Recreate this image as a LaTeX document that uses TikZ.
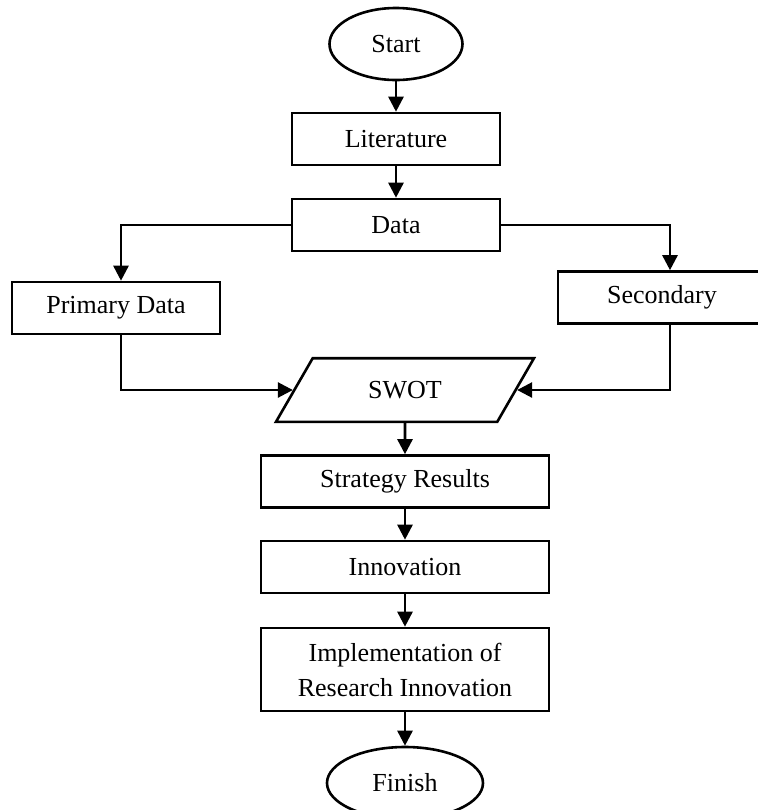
\documentclass[tikz,border=0pt]{standalone}
\usepackage{fontspec}
\setmainfont{Liberation Serif}
\usetikzlibrary{arrows.meta,shapes.geometric}

\begin{document}
\begin{tikzpicture}[auto, node distance=43pt, >={Triangle[length=7.5pt,width=7.5pt]},
    line width=1.3pt,
    every node/.style={font=\fontsize{13}{17.5}\selectfont, inner sep=0pt},
    box/.style={draw, rectangle, minimum width=104pt, minimum height=26pt, align=center},
    wide/.style={box, minimum width=144pt},
    term/.style={draw, ellipse, minimum height=36pt},
    io/.style={draw, trapezium, trapezium left angle=60, trapezium right angle=120,
        trapezium stretches body=true, minimum width=129pt, inner ysep=11.5pt}]

    % Frame
    \useasboundingbox (-198pt,22pt) rectangle (180.5pt,-383pt);

    % Nodes
    \node (Start) [term, minimum width=66.5pt] {Start};
    \node (Lit) [box, below of=Start, node distance=47.5pt] {Literature};
    \node (Data) [box, below of=Lit] {Data};
    \node (Prim) [box, below of=Data, node distance=41.5pt, xshift=-140pt] {Primary Data};
    \node (Sec) [box, below of=Data, node distance=36.25pt, xshift=133pt] {Secondary};
    \node (SWOT) [io, below of=Data, node distance=82.5pt, xshift=4.5pt] {SWOT};
    \node (Strat) [wide, below of=SWOT, node distance=45.75pt] {Strategy Results};
    \node (Inno) [wide, below of=Strat, node distance=42.75pt] {Innovation};
    \node (Impl) [wide, below of=Inno, node distance=51.25pt, minimum height=41.5pt] {Implementation of\\Research Innovation};
    \node (Fin) [term, below of=Impl, node distance=56.75pt, minimum width=78pt] {Finish};

    % Arrows
    \draw[->] (Start) -- (Lit);
    \draw[->] (Lit) -- (Data);
    \draw[->] (Data.west) -| ([xshift=2.5pt]Prim.north);
    \draw[->] (Data.east) -| ([xshift=4pt]Sec.north);
    \draw[->] ([xshift=2.5pt]Prim.south) |- (SWOT.west);
    \draw[->] ([xshift=4pt]Sec.south) |- (SWOT.east);
    \draw[->] (SWOT) -- (Strat);
    \draw[->] (Strat) -- (Inno);
    \draw[->] (Inno) -- (Impl);
    \draw[->] (Impl) -- (Fin);
\end{tikzpicture}
\end{document}
